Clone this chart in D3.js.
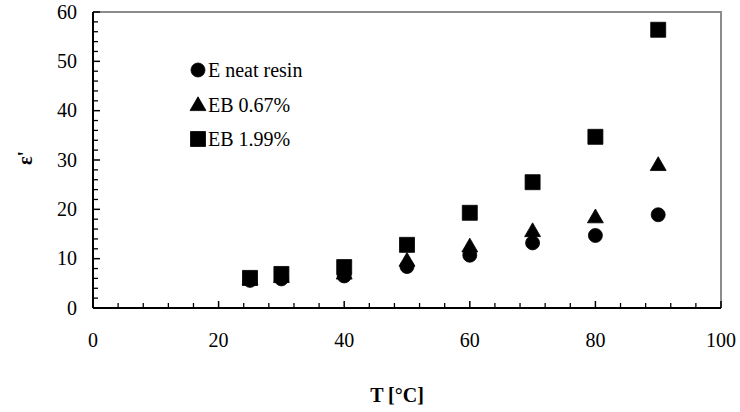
<!DOCTYPE html>
<html>
<head>
<meta charset="utf-8">
<script src="https://cdn.jsdelivr.net/npm/d3@7"></script>
<style>
  html, body { margin: 0; padding: 0; background: #fff; }
  svg { display: block; }
</style>
</head>
<body>
<svg id="chart" width="740" height="412"></svg>
<script>
// Dielectric constant vs temperature
const temps = [25, 30, 40, 50, 60, 70, 80, 90];
const neatResin = [5.6, 5.9, 6.5, 8.4, 10.7, 13.2, 14.7, 18.9];
const eb067 = [5.8, 6.3, 7.0, 9.6, 12.5, 15.6, 18.4, 29.0];
const eb199 = [6.1, 6.9, 8.3, 12.8, 19.3, 25.5, 34.7, 56.4];
const seriesNames = ["E neat resin", "EB 0.67%", "EB 1.99%"];
const xTicks = [0, 20, 40, 60, 80, 100];
const yTicks = [0, 10, 20, 30, 40, 50, 60];

const FONT = '"Liberation Serif"';
const svg = d3.select("#chart");
const plot = { left: 93, right: 721, top: 12, bottom: 308 };

const x = d3.scaleLinear().domain([0, 100]).range([plot.left, plot.right]);
const y = d3.scaleLinear().domain([0, 60]).range([plot.bottom, plot.top]);

// Gray frame on top and right
svg.append("path")
  .attr("d", `M${plot.left},${plot.top}H${plot.right}V${plot.bottom}`)
  .attr("fill", "none").attr("stroke", "#8c8c8c").attr("stroke-width", 2);

// Minor ticks (inside)
const xMinor = d3.range(0, 101, 4).filter(v => v % 20 !== 0);
const yMinor = d3.range(0, 61, 2).filter(v => v % 10 !== 0);

const gx = svg.append("g");
gx.selectAll("line.major").data(xTicks).join("line")
  .attr("x1", d => x(d)).attr("x2", d => x(d))
  .attr("y1", plot.bottom).attr("y2", plot.bottom - 7)
  .attr("stroke", "#000").attr("stroke-width", 1.5);
gx.selectAll("line.minor").data(xMinor).join("line")
  .attr("x1", d => x(d)).attr("x2", d => x(d))
  .attr("y1", plot.bottom).attr("y2", plot.bottom - 5)
  .attr("stroke", "#000").attr("stroke-width", 1.3);
gx.selectAll("text").data(xTicks).join("text")
  .attr("x", d => x(d)).attr("y", 347)
  .attr("text-anchor", "middle").attr("font-size", 20)
  .style("font-family", FONT)
  .text(d => d);

const gy = svg.append("g");
gy.selectAll("line.major").data(yTicks).join("line")
  .attr("x1", plot.left).attr("x2", plot.left + 7)
  .attr("y1", d => y(d)).attr("y2", d => y(d))
  .attr("stroke", "#000").attr("stroke-width", 1.5);
gy.selectAll("line.minor").data(yMinor).join("line")
  .attr("x1", plot.left).attr("x2", plot.left + 5)
  .attr("y1", d => y(d)).attr("y2", d => y(d))
  .attr("stroke", "#000").attr("stroke-width", 1.3);
gy.selectAll("text").data(yTicks).join("text")
  .attr("x", 77).attr("y", d => y(d) + 6.5)
  .attr("text-anchor", "end").attr("font-size", 20)
  .style("font-family", FONT)
  .text(d => d);

// Black axis lines
svg.append("line").attr("x1", plot.left).attr("x2", plot.right)
  .attr("y1", plot.bottom).attr("y2", plot.bottom)
  .attr("stroke", "#000").attr("stroke-width", 2);
svg.append("line").attr("x1", plot.left).attr("x2", plot.left)
  .attr("y1", plot.top).attr("y2", plot.bottom)
  .attr("stroke", "#000").attr("stroke-width", 2);

// Axis titles
svg.append("text").attr("x", 397).attr("y", 402)
  .attr("text-anchor", "middle").attr("font-size", 20).attr("font-weight", "bold")
  .style("font-family", FONT)
  .text("T [°C]");
svg.append("text")
  .attr("transform", "translate(32,158) rotate(-90)")
  .attr("text-anchor", "middle").attr("font-size", 20).attr("font-weight", "bold")
  .style("font-family", FONT)
  .text("ε'");

// Markers
const symCircle = d3.symbol().type(d3.symbolCircle).size(154)();
const symTriangle = d3.symbol().type(d3.symbolTriangle).size(110)();
const symSquare = d3.symbol().type(d3.symbolSquare).size(225)();
const shapes = [symCircle, symTriangle, symSquare];
const seriesValues = [neatResin, eb067, eb199];

// Draw squares first, then triangles, then circles on top
[2, 1, 0].forEach(i => {
  svg.append("g").selectAll("path")
    .data(temps.map((t, k) => [t, seriesValues[i][k]]))
    .join("path")
    .attr("d", shapes[i])
    .attr("transform", d => `translate(${x(d[0])},${y(d[1]) + (i === 1 ? 1 : 0)})`)
    .attr("fill", "#000")
    .attr("stroke", "#000").attr("stroke-width", 0.8).attr("stroke-linejoin", "round");
});

// Legend
const legendY = [70, 105, 139];
const legend = svg.append("g");
seriesNames.forEach((name, i) => {
  legend.append("path").attr("d", shapes[i])
    .attr("transform", `translate(198,${legendY[i] + (i === 1 ? 1 : 0)})`)
    .attr("fill", "#000").attr("stroke", "#000").attr("stroke-width", 0.8)
    .attr("stroke-linejoin", "round");
  legend.append("text").attr("x", 208).attr("y", legendY[i] + 6.5)
    .attr("font-size", 20).style("font-family", FONT).text(name);
});
</script>
</body>
</html>
